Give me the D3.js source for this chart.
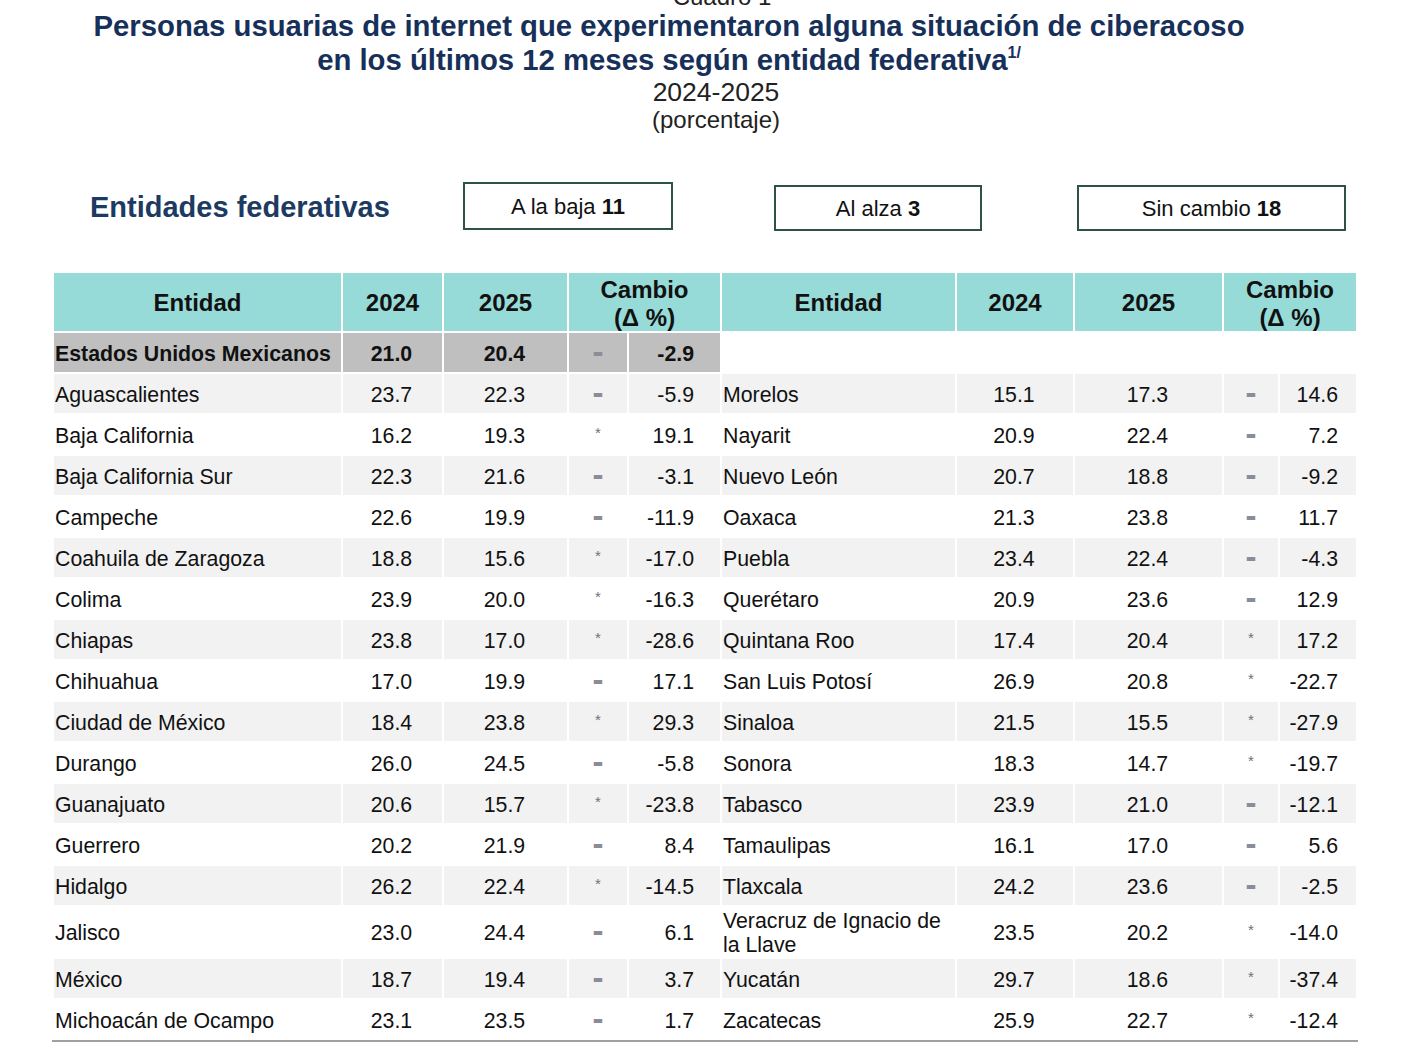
<!DOCTYPE html>
<html>
<head>
<meta charset="utf-8">
<script src="https://cdn.jsdelivr.net/npm/d3@7"></script>
<style>
  body { margin: 0; background: #fff; }
  svg { display: block; font-family: "Liberation Sans", Arial, sans-serif; }
</style>
</head>
<body>
<svg id="chart" width="1428" height="1058"></svg>
<script>
const nacional = { nombre: 'Estados Unidos Mexicanos', v2024: 21.0, v2025: 20.4, marca: '-', cambio: -2.9 };

const entidades = [
  'Aguascalientes', 'Baja California', 'Baja California Sur', 'Campeche',
  'Coahuila de Zaragoza', 'Colima', 'Chiapas', 'Chihuahua',
  'Ciudad de México', 'Durango', 'Guanajuato', 'Guerrero',
  'Hidalgo', 'Jalisco', 'México', 'Michoacán de Ocampo',
  'Morelos', 'Nayarit', 'Nuevo León', 'Oaxaca',
  'Puebla', 'Querétaro', 'Quintana Roo', 'San Luis Potosí',
  'Sinaloa', 'Sonora', 'Tabasco', 'Tamaulipas',
  'Tlaxcala', 'Veracruz de Ignacio de la Llave', 'Yucatán', 'Zacatecas'
];
const valores2024 = [
  23.7, 16.2, 22.3, 22.6, 18.8, 23.9, 23.8, 17.0,
  18.4, 26.0, 20.6, 20.2, 26.2, 23.0, 18.7, 23.1,
  15.1, 20.9, 20.7, 21.3, 23.4, 20.9, 17.4, 26.9,
  21.5, 18.3, 23.9, 16.1, 24.2, 23.5, 29.7, 25.9
];
const valores2025 = [
  22.3, 19.3, 21.6, 19.9, 15.6, 20.0, 17.0, 19.9,
  23.8, 24.5, 15.7, 21.9, 22.4, 24.4, 19.4, 23.5,
  17.3, 22.4, 18.8, 23.8, 22.4, 23.6, 20.4, 20.8,
  15.5, 14.7, 21.0, 17.0, 23.6, 20.2, 18.6, 22.7
];
const cambios = [
  -5.9, 19.1, -3.1, -11.9, -17.0, -16.3, -28.6, 17.1,
  29.3, -5.8, -23.8, 8.4, -14.5, 6.1, 3.7, 1.7,
  14.6, 7.2, -9.2, 11.7, -4.3, 12.9, 17.2, -22.7,
  -27.9, -19.7, -12.1, 5.6, -2.5, -14.0, -37.4, -12.4
];
// '*' = cambio estadísticamente significativo, '-' = sin cambio
const marcas = [
  '-', '*', '-', '-', '*', '*', '*', '-',
  '*', '-', '*', '-', '*', '-', '-', '-',
  '-', '-', '-', '-', '-', '-', '*', '*',
  '*', '*', '-', '-', '-', '*', '*', '*'
];
const resumen = [
  { etiqueta: 'A la baja', n: 11 },
  { etiqueta: 'Al alza', n: 3 },
  { etiqueta: 'Sin cambio', n: 18 }
];
const encabezados = ['Entidad', '2024', '2025'];

const svg = d3.select('#chart');
const fmt = d3.formatLocale({ decimal: '.', thousands: ',', grouping: [3], currency: ['', ''], minus: '-' }).format('.1f');
const navy = '#16305a';
const fs = 21.3;

// Titles
svg.append('text').attr('x', 722).attr('y', 5).attr('text-anchor', 'middle')
  .attr('font-size', 24).attr('fill', '#222').text('Cuadro 1');
svg.append('text').attr('x', 669).attr('y', 36).attr('text-anchor', 'middle')
  .attr('font-size', 29.3).attr('font-weight', 'bold').attr('fill', navy)
  .text('Personas usuarias de internet que experimentaron alguna situación de ciberacoso');
const t2 = svg.append('text').attr('x', 669).attr('y', 70).attr('text-anchor', 'middle')
  .attr('font-size', 29.3).attr('font-weight', 'bold').attr('fill', navy);
t2.append('tspan').text('en los últimos 12 meses según entidad federativa');
t2.append('tspan').attr('dy', -12).attr('font-size', 16).text('1/');
svg.append('text').attr('x', 716).attr('y', 101).attr('text-anchor', 'middle')
  .attr('font-size', 26.5).attr('fill', '#222').text('2024-2025');
svg.append('text').attr('x', 716).attr('y', 128).attr('text-anchor', 'middle')
  .attr('font-size', 24).attr('fill', '#222').text('(porcentaje)');

svg.append('text').attr('x', 90).attr('y', 217)
  .attr('font-size', 29).attr('font-weight', 'bold').attr('fill', '#1d3a62')
  .text('Entidades federativas');

// Summary boxes
const cajas = [
  { x: 464, y: 183, w: 208, h: 46 },
  { x: 775, y: 186, w: 206, h: 44 },
  { x: 1078, y: 186, w: 267, h: 44 }
];
const box = svg.selectAll('.caja').data(resumen).enter().append('g').attr('class', 'caja')
  .attr('transform', (d, i) => `translate(${cajas[i].x},${cajas[i].y})`);
box.append('rect')
  .attr('width', (d, i) => cajas[i].w).attr('height', (d, i) => cajas[i].h)
  .attr('fill', '#fff').attr('stroke', '#2e5346').attr('stroke-width', 2);
const bt = box.append('text')
  .attr('x', (d, i) => cajas[i].w / 2).attr('y', (d, i) => cajas[i].h / 2 + 8)
  .attr('text-anchor', 'middle').attr('font-size', 22).attr('fill', '#111');
bt.append('tspan').text(d => d.etiqueta + ' ');
bt.append('tspan').attr('font-weight', 'bold').text(d => d.n);

// Table layout: [x, width] for name, 2024, 2025, mark, change; plus right inset of change text
const lados = [
  { cols: [[54, 287], [343, 99], [444, 123], [569, 58], [629, 91]], inset: 26 },
  { cols: [[722, 233], [957, 116], [1075, 147], [1224, 54], [1280, 76]], inset: 18 }
];
const headTop = 273, headH = 58, natTop = 333, natH = 39, bodyTop = 374, gap = 2;
const teal = '#97dbd8', stripe = '#f2f2f2', natFill = '#bfbfbf', markFill = '#8a8d96';

// Header
lados.forEach(l => {
  const c = l.cols;
  const cells = [c[0], c[1], c[2], [c[3][0], c[4][0] + c[4][1] - c[3][0]]];
  svg.append('g').selectAll('rect').data(cells).enter().append('rect')
    .attr('x', d => d[0]).attr('y', headTop).attr('width', d => d[1]).attr('height', headH)
    .attr('fill', teal);
  svg.append('g').selectAll('text').data(encabezados).enter().append('text')
    .attr('x', (d, i) => cells[i][0] + cells[i][1] / 2).attr('y', headTop + headH / 2 + 9)
    .attr('text-anchor', 'middle').attr('font-size', 24).attr('font-weight', 'bold').attr('fill', '#111')
    .text(d => d);
  const cx = cells[3][0] + cells[3][1] / 2;
  const ht = svg.append('text').attr('text-anchor', 'middle').attr('font-size', 24)
    .attr('font-weight', 'bold').attr('fill', '#111');
  ht.append('tspan').attr('x', cx).attr('y', headTop + 25).text('Cambio');
  ht.append('tspan').attr('x', cx).attr('y', headTop + 53).text('(Δ %)');
});

// Rows data: split into two columns of 16
const filas = entidades.map((nombre, i) => ({
  nombre, v2024: valores2024[i], v2025: valores2025[i], marca: marcas[i], cambio: cambios[i]
}));
const porLado = 16;
const izquierda = filas.slice(0, porLado), derecha = filas.slice(porLado);

// measure names to decide wrapping, and row heights
const medir = svg.append('text').attr('font-size', fs).attr('visibility', 'hidden');
function partir(texto, ancho) {
  const palabras = texto.split(' ');
  const lineas = [];
  let actual = '';
  palabras.forEach(p => {
    const prueba = actual ? actual + ' ' + p : p;
    medir.text(prueba);
    if (medir.node().getComputedTextLength() > ancho && actual) {
      lineas.push(actual); actual = p;
    } else actual = prueba;
  });
  lineas.push(actual);
  return lineas;
}
[izquierda, derecha].forEach((arr, k) => {
  const w = lados[k].cols[0][1] - 6;
  arr.forEach(d => { d.lineas = partir(d.nombre, w); });
});
medir.remove();

const alturas = d3.range(porLado).map(i =>
  Math.max(izquierda[i].lineas.length, derecha[i].lineas.length) > 1 ? 52 : 41);
const tops = alturas.map((h, i) => bodyTop + d3.sum(alturas.slice(0, i)));
const bottom = bodyTop + d3.sum(alturas);

function dibujarFila(g, d, lado, top, h, fill, bold) {
  const cols = lado.cols;
  const cy = top + (h - gap) / 2;
  if (fill) {
    g.selectAll(null).data(cols).enter().append('rect')
      .attr('x', c => c[0]).attr('y', top).attr('width', c => c[1]).attr('height', h - gap)
      .attr('fill', fill);
  }
  const fw = bold ? 'bold' : 'normal';
  const nt = g.append('text').attr('font-size', fs).attr('font-weight', fw).attr('fill', '#111');
  const lines = d.lineas || [d.nombre];
  lines.forEach((ln, j) => {
    nt.append('tspan').attr('x', cols[0][0] + 1)
      .attr('y', cy + 8 + (j - (lines.length - 1) / 2) * 24).text(ln);
  });
  g.append('text').attr('x', cols[1][0] + cols[1][1] / 2 - 1).attr('y', cy + 8)
    .attr('text-anchor', 'middle').attr('font-size', fs).attr('font-weight', fw).attr('fill', '#111')
    .text(fmt(d.v2024));
  g.append('text').attr('x', cols[2][0] + cols[2][1] / 2 - 1).attr('y', cy + 8)
    .attr('text-anchor', 'middle').attr('font-size', fs).attr('font-weight', fw).attr('fill', '#111')
    .text(fmt(d.v2025));
  const mx = cols[3][0] + cols[3][1] / 2;
  if (d.marca === '*') {
    g.append('text').attr('x', mx).attr('y', cy + 3).attr('text-anchor', 'middle')
      .attr('font-size', 15).attr('fill', '#6f7178').text('*');
  } else {
    g.append('text').attr('x', mx).attr('y', cy + 4).attr('text-anchor', 'middle')
      .attr('font-family', '"DejaVu Sans", sans-serif')
      .attr('font-size', 11).attr('fill', markFill).text('▬');
  }
  g.append('text').attr('x', cols[4][0] + cols[4][1] - lado.inset).attr('y', cy + 8)
    .attr('text-anchor', 'end').attr('font-size', fs).attr('font-weight', fw).attr('fill', '#111')
    .text(fmt(d.cambio));
}

// National row
dibujarFila(svg.append('g'), nacional, lados[0], natTop, natH + gap, natFill, true);

// Body rows
[izquierda, derecha].forEach((arr, k) => {
  arr.forEach((d, i) => {
    const g = svg.append('g').attr('class', 'fila');
    dibujarFila(g, d, lados[k], tops[i], alturas[i], i % 2 === 0 ? stripe : null, false);
  });
});

// Bottom rule
svg.append('line').attr('x1', 52).attr('x2', 1358).attr('y1', bottom).attr('y2', bottom)
  .attr('stroke', '#a0a0a0').attr('stroke-width', 2);
</script>
</body>
</html>
